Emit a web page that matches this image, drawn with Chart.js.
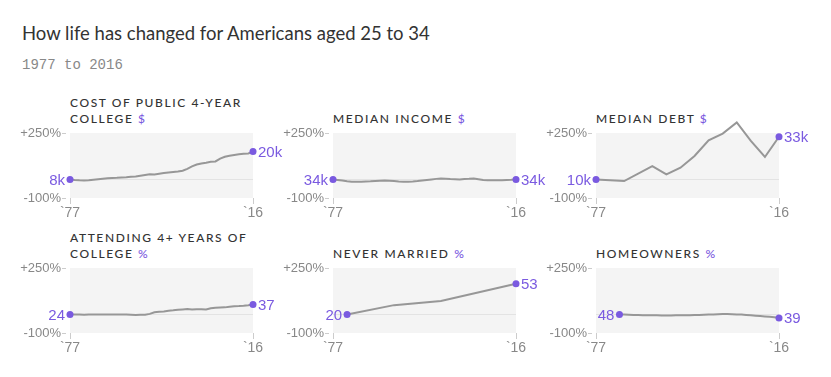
<!DOCTYPE html>
<html>
<head>
<meta charset="utf-8">
<script src="https://cdn.jsdelivr.net/npm/chart.js@4"></script>
<style>
  body { margin: 0; background: #fff; width: 831px; height: 377px; position: relative; overflow: hidden; font-family: "Liberation Sans", Arial, sans-serif; }
  h1 { position: absolute; left: 22px; top: 22px; margin: 0; font: 400 18.5px Lato, sans-serif; color: #333; }
  .sub { position: absolute; left: 22px; top: 57px; font: 14px "Liberation Mono", monospace; color: #888; }
  .ttl { position: absolute; font: 500 12px Lato, sans-serif; letter-spacing: 1.6px; color: #333; line-height: 16px; }
  .ttl span { color: #7a5ae0; }
  canvas { position: absolute; }
</style>
</head>
<body>
<h1>How life has changed for Americans aged 25 to 34</h1>
<div class="sub">1977 to 2016</div>
<div id="panels"></div>
<script>
// titles and end labels
const titles = ['COST OF PUBLIC 4-YEAR<br>COLLEGE', 'MEDIAN INCOME', 'MEDIAN DEBT', 'ATTENDING 4+ YEARS OF<br>COLLEGE', 'NEVER MARRIED', 'HOMEOWNERS'];
const units = ['$', '$', '$', '%', '%', '%'];
const startLabels = ['8k', '34k', '10k', '24', '20', '48'];
const endLabels = ['20k', '34k', '33k', '37', '53', '39'];
const yTicks = [-100, 0, 250];
const xTicks = [1977, 2016];

const annualYears = [1977,1978,1979,1980,1981,1982,1983,1984,1985,1986,1987,1988,1989,1990,1991,1992,1993,1994,1995,1996,
  1997,1998,1999,2000,2001,2002,2003,2004,2005,2006,2007,2008,2009,2010,2011,2012,2013,2014,2015,2016];

// % change since first year
const collegeCost = [0,-3,-5,-6,-5,-2,1,4,6,8,9,11,12,14,16,20,24,28,27,31,34,37,40,43,47,57,70,80,86,90,95,97,112,122,128,132,135,138,140,150];
const medianIncome = [0,-3,-6,-10,-12,-13,-13,-11,-10,-8,-7,-6,-7,-9,-11,-12,-12,-11,-9,-6,-3,0,3,5,4,2,1,0,2,3,5,1,-3,-4,-4,-4,-4,-3,-2,0];
const debtYears = [1977,1983,1989,1992,1995,1998,2001,2004,2007,2010,2013,2016];
const medianDebt = [0,-9,72,27,63,126,211,247,307,208,121,230];
const collegeYears = annualYears;
const attendingCollege = [0,-1,-1,-2,-1,0,0,-1,-1,0,-1,0,-1,-2,-3,-2,-2,3,12,14,16,20,22,25,27,29,27,28,28,27,33,36,37,38,41,44,45,47,50,54];
const marriedYears = [1980,1990,2000,2016];
const neverMarried = [0,50,72,165];
const homeYears = [1982,1983,1984,1985,1986,1987,1988,1989,1990,1991,1992,1993,1994,1995,1996,1997,1998,1999,2000,2001,
  2002,2003,2004,2005,2006,2007,2008,2009,2010,2011,2012,2013,2014,2015,2016];
const homeowners = [0,-1,-2,-3,-3,-4,-4,-4,-5,-6,-6,-6,-5,-5,-4,-4,-3,-3,-2,-1,0,1,2,2,1,0,-1,-3,-5,-7,-9,-11,-13,-15,-19];

const seriesYears = [annualYears, annualYears, debtYears, collegeYears, marriedYears, homeYears];
const seriesValues = [collegeCost, medianIncome, medianDebt, attendingCollege, neverMarried, homeowners];

const purple = '#7a5ae0';
const plotLefts = [70, 333, 596];
const plotTops = [133, 268];

const panelPlugin = {
  id: 'panel',
  beforeDraw(chart) {
    const a = chart.chartArea, ctx = chart.ctx;
    ctx.save();
    ctx.fillStyle = '#f4f4f4';
    ctx.fillRect(a.left, a.top, a.right - a.left, a.bottom - a.top);
    // small y tick dashes
    const y = chart.scales.y;
    ctx.strokeStyle = '#ccc';
    ctx.lineWidth = 1;
    [250, -100].forEach(v => {
      const py = Math.round(y.getPixelForValue(v)) + 0.5;
      ctx.beginPath();
      ctx.moveTo(a.left - 8, py);
      ctx.lineTo(a.left - 4, py);
      ctx.stroke();
    });
    ctx.restore();
  },
  afterDatasetsDraw(chart) {
    const pts = chart.getDatasetMeta(0).data;
    const i = chart.options.plugins.panel.index;
    const ctx = chart.ctx;
    ctx.save();
    ctx.fillStyle = purple;
    ctx.font = '15px "Liberation Sans", Arial, sans-serif';
    ctx.textBaseline = 'middle';
    const first = pts[0], last = pts[pts.length - 1];
    ctx.textAlign = 'right';
    ctx.fillText(startLabels[i], first.x - 5, first.y + 1);
    ctx.textAlign = 'left';
    ctx.fillText(endLabels[i], last.x + 5, last.y + 1);
    ctx.restore();
  }
};

const panels = document.getElementById('panels');
titles.forEach((t, i) => {
  const col = i % 3, row = Math.floor(i / 3);
  const left = plotLefts[col], top = plotTops[row];
  const two = t.indexOf('<br>') >= 0;

  const ttl = document.createElement('div');
  ttl.className = 'ttl';
  ttl.style.left = left + 'px';
  ttl.style.top = (top - (two ? 38 : 22)) + 'px';
  ttl.innerHTML = t + ' <span>' + units[i] + '</span>';
  panels.appendChild(ttl);

  const cv = document.createElement('canvas');
  const cLeft = left - 50;
  const cTop = top - 33;
  cv.style.left = cLeft + 'px';
  cv.style.top = cTop + 'px';
  cv.style.width = '263px';
  cv.style.height = '122px';
  cv.width = 263; cv.height = 122;
  panels.appendChild(cv);

  const yrs = seriesYears[i], vals = seriesValues[i];
  const n = vals.length;
  new Chart(cv, {
    type: 'line',
    data: {
      datasets: [{
        data: vals.map((v, k) => ({ x: yrs[k], y: v })),
        borderColor: '#979797',
        borderWidth: 2,
        tension: 0,
        clip: false,
        pointRadius: ctx => (ctx.dataIndex === 0 || ctx.dataIndex === n - 1) ? 3.5 : 0,
        pointBackgroundColor: purple,
        pointBorderWidth: 0
      }]
    },
    options: {
      responsive: false,
      animation: false,
      events: [],
      layout: { padding: { top: 33, right: 30, left: 0, bottom: 0 } },
      plugins: { legend: { display: false }, tooltip: { enabled: false }, panel: { index: i } },
      scales: {
        x: {
          type: 'linear', min: 1977, max: 2016,
          afterBuildTicks: s => { s.ticks = xTicks.map(v => ({ value: v })); },
          afterFit: s => { s.height = 24; },
          grid: { drawOnChartArea: false, tickLength: 6, color: '#ccc' },
          border: { display: false },
          ticks: { color: '#888', padding: 1, font: { size: 14, family: '"Liberation Sans", Arial' }, maxRotation: 0,
            callback: v => '`' + String(v).slice(2) }
        },
        y: {
          min: -100, max: 250,
          afterBuildTicks: s => { s.ticks = yTicks.map(v => ({ value: v })); },
          afterFit: s => { s.width = 50; },
          grid: { drawTicks: false, color: c => c.tick && c.tick.value === 0 ? '#e3e3e3' : 'rgba(0,0,0,0)' },
          border: { display: false },
          ticks: { color: '#888', padding: 9, font: { size: 13, family: '"Liberation Sans", Arial' },
            callback: v => v === 250 ? '+250%' : (v === -100 ? '-100%' : '') }
        }
      }
    },
    plugins: [panelPlugin]
  });
});
</script>
</body>
</html>
